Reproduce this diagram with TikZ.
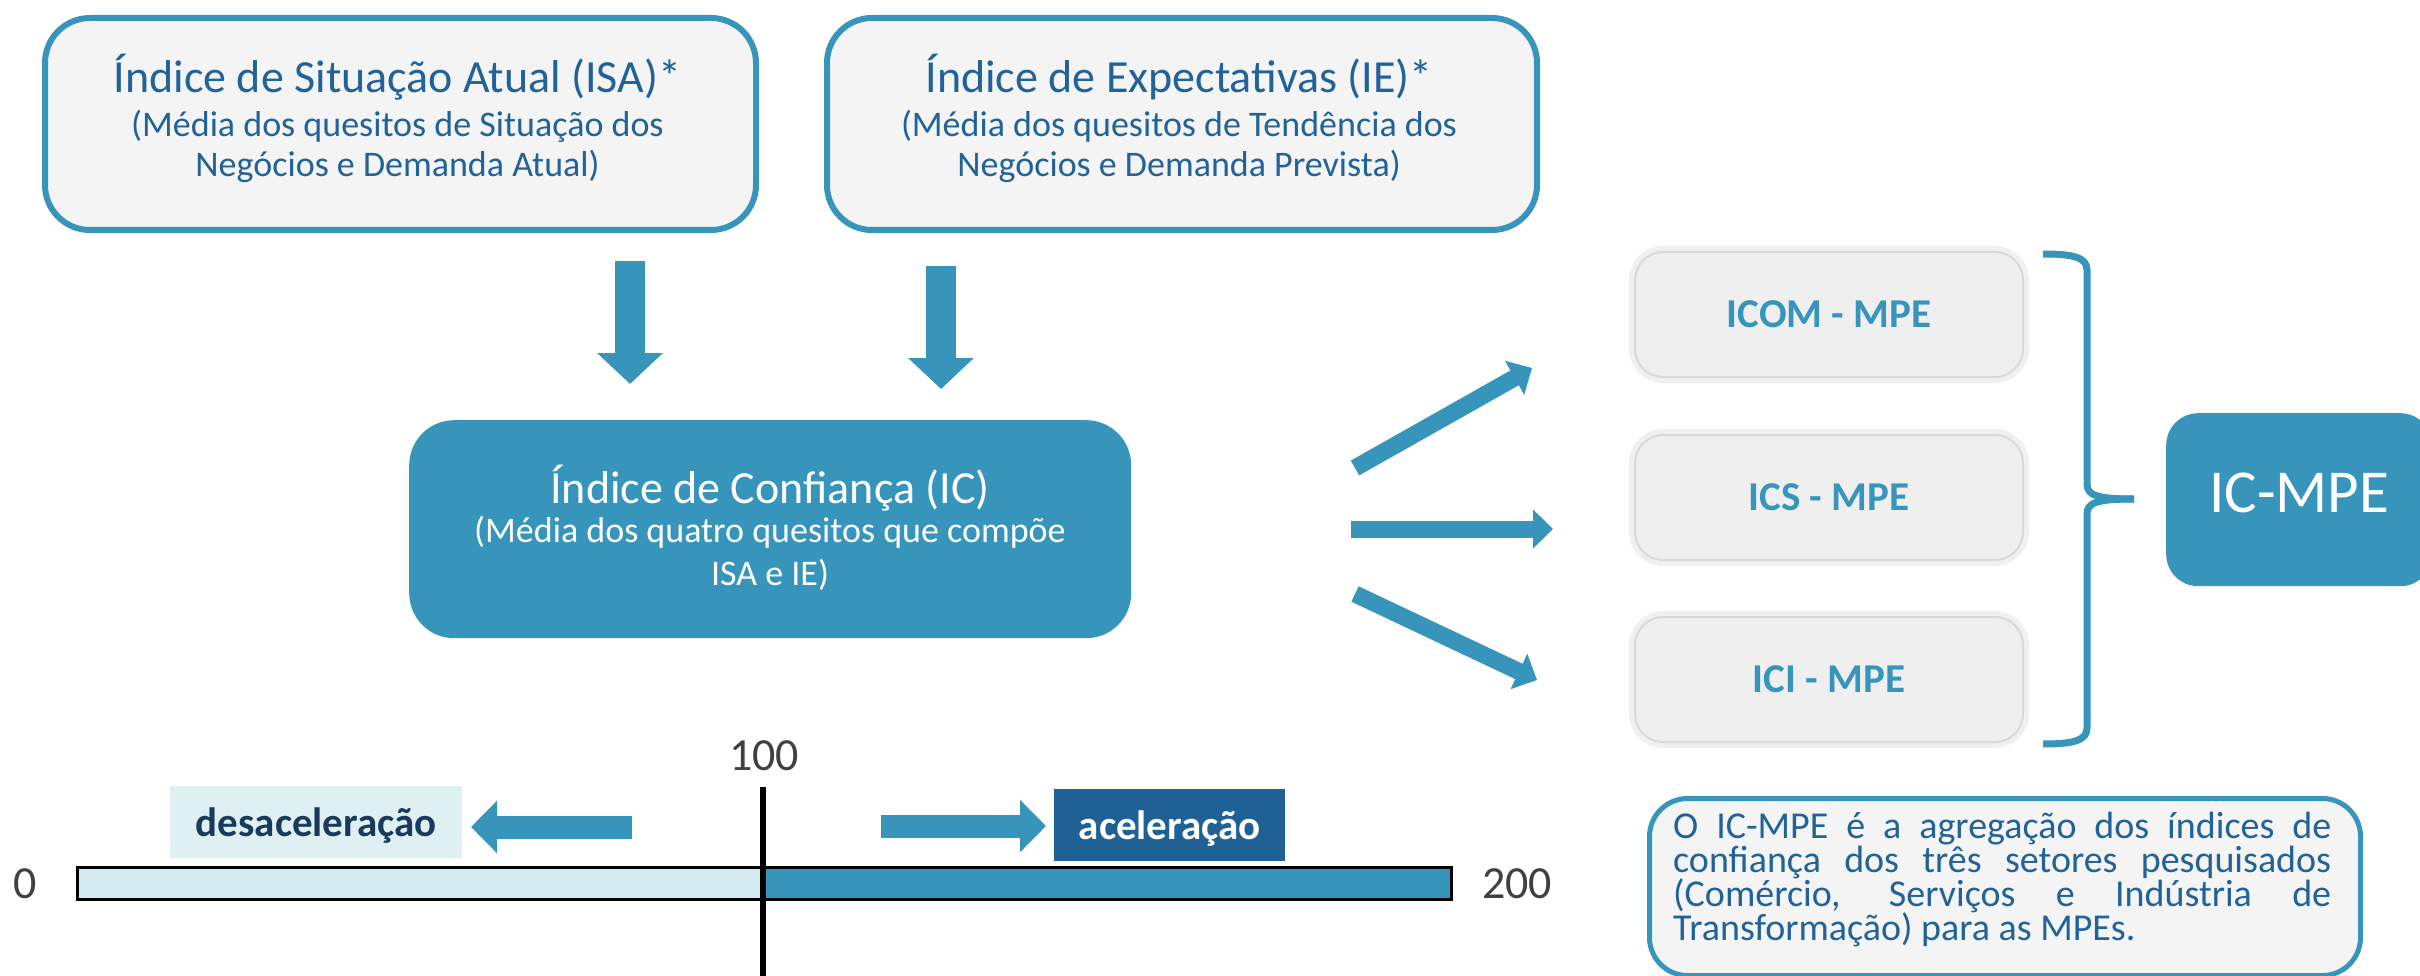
\documentclass[tikz,border=0pt]{standalone}
\usepackage{fontspec}
\setmainfont{Carlito}
\usetikzlibrary{arrows.meta}
\definecolor{mainblue}{RGB}{55,149,188}
\definecolor{titleblue}{RGB}{33,98,152}
\definecolor{boxgray}{RGB}{244,244,244}
\definecolor{smallgray}{RGB}{239,239,239}
\definecolor{lightbar}{RGB}{212,234,242}
\definecolor{deslight}{RGB}{223,240,243}
\definecolor{desdark}{RGB}{24,58,92}
\definecolor{acdark}{RGB}{31,97,148}
\definecolor{numgray}{RGB}{64,64,64}
\newcommand\ctrline[2]{\hbox to #1{\hfil #2\hfil}}
\tikzset{
  topbox/.style={draw=mainblue, line width=6pt, fill=boxgray, rounded corners=45pt, inner sep=0pt, anchor=north west},
  icbox/.style={fill=mainblue, rounded corners=45pt, inner sep=0pt, anchor=north west},
  smallbox/.style={fill=smallgray, draw=black!15, line width=2pt, rounded corners=28pt, inner sep=0pt,
     minimum width=388pt, minimum height=125pt, anchor=north west,
     preaction={draw=black!6, line width=12pt},
     font=\fontsize{41}{41}\selectfont\bfseries, text=mainblue, text height=26pt, text depth=0pt},
  mpebox/.style={fill=mainblue, rounded corners=32pt, inner sep=0pt, anchor=north west,
     font=\fontsize{61}{61}\selectfont, text=white, text height=38pt, text depth=12pt},
  notebox/.style={draw=mainblue, line width=5pt, fill=boxgray, rounded corners=38pt, inner sep=0pt, anchor=north west},
  boxtext/.style={anchor=base, inner sep=0pt, font=\fontsize{36}{40}\selectfont},
  downarrow/.style={draw=mainblue, line width=30pt, -{Triangle[width=64pt,length=31pt]}},
  blockarrow/.style={draw=mainblue, line width=17pt, -{Triangle[width=38pt,length=20pt]}},
  scalearrow/.style={draw=mainblue, line width=23pt, -{Triangle[width=51pt,length=26pt]}},
  bracestyle/.style={draw=mainblue, line width=7pt},
  numlabel/.style={anchor=base, inner sep=0pt, font=\fontsize{46}{46}\selectfont, text=numgray},
  tagbox/.style={inner sep=0pt, anchor=north west, font=\fontsize{41}{41}\selectfont\bfseries, text height=29pt, text depth=0pt},
}
\begin{document}
\begin{tikzpicture}[x=1pt,y=-1pt]
\useasboundingbox (0,0) rectangle (2420,976);

% top boxes
\node[topbox, minimum width=711pt, minimum height=212pt] (isa) at (42,15) {};
\node[topbox, minimum width=710pt, minimum height=212pt] (ie) at (824,15) {};
\node[boxtext, text=titleblue] (isatext) at (397.5,93) {\vtop{\lineskiplimit=-100pt
  \ctrline{700pt}{\fontsize{46}{46}\selectfont Índice de Situação Atual (ISA)*}
  \baselineskip=44pt
  \ctrline{700pt}{(Média dos quesitos de Situação dos}
  \baselineskip=40pt
  \ctrline{700pt}{Negócios e Demanda Atual)}}};
\node[boxtext, text=titleblue] (ietext) at (1179,93) {\vtop{\lineskiplimit=-100pt
  \ctrline{700pt}{\fontsize{46}{46}\selectfont Índice de Expectativas (IE)*}
  \baselineskip=44pt
  \ctrline{700pt}{(Média dos quesitos de Tendência dos}
  \baselineskip=40pt
  \ctrline{700pt}{Negócios e Demanda Prevista)}}};

% IC box
\node[icbox, minimum width=722pt, minimum height=218pt] (ic) at (409,420) {};
\node[boxtext, text=white] (ictext) at (770,503) {\vtop{\lineskiplimit=-100pt
  \ctrline{710pt}{\fontsize{46}{46}\selectfont Índice de Confiança (IC)}
  \baselineskip=39pt
  \ctrline{710pt}{(Média dos quatro quesitos que compõe}
  \baselineskip=43pt
  \ctrline{710pt}{ISA e IE)}}};

% down arrows
\coordinate (d1s) at (630,261);
\coordinate (d1e) at (630,384);
\coordinate (d2s) at (941,266);
\coordinate (d2e) at (941,389);
\draw[downarrow] (d1s) -- (d1e);
\draw[downarrow] (d2s) -- (d2e);

% small boxes
\node[smallbox] (icom) at (1634,251) {ICOM - MPE};
\node[smallbox] (ics) at (1634,434) {ICS - MPE};
\node[smallbox] (ici) at (1634,616) {ICI - MPE};

% arrows from IC
\coordinate (a1s) at (1355,468);
\coordinate (a1e) at (1532,368);
\coordinate (a2s) at (1351,529);
\coordinate (a2e) at (1553,529);
\coordinate (a3s) at (1355,594);
\coordinate (a3e) at (1537,680);
\draw[blockarrow] (a1s) -- (a1e);
\draw[blockarrow] (a2s) -- (a2e);
\draw[blockarrow] (a3s) -- (a3e);

% brace
\coordinate (bt) at (2043,254);
\coordinate (btip) at (2134,499);
\coordinate (bb) at (2043,744);
\draw[bracestyle] (bt) .. controls (2072,254) and (2087,257) .. (2087,270) -- (2087,484)
  .. controls (2087,495) and (2096,499) .. (btip);
\draw[bracestyle] (btip) .. controls (2096,499) and (2087,503) .. (2087,514) -- (2087,728)
  .. controls (2087,741) and (2072,744) .. (bb);

% IC-MPE
\node[mpebox, minimum width=266pt, minimum height=173pt] (mpe) at (2166,413) {IC-MPE};

% note
\node[notebox, minimum width=711pt, minimum height=177pt] (note) at (1647,796) {};
\node[anchor=base west, inner sep=0pt, text=titleblue, font=\fontsize{38}{34}\selectfont] (notetext) at (1673,838)
 {\vtop{\lineskiplimit=-100pt \baselineskip=34pt
  \hbox{\makebox[658pt][s]{O IC-MPE é a agregação dos índices de}}
  \hbox{\makebox[658pt][s]{confiança dos três setores pesquisados}}
  \hbox{\makebox[658pt][s]{(Comércio, Serviços e Indústria de}}
  \hbox{Transformação) para as MPEs.}}};

% scale
\node[tagbox, fill=deslight, text=desdark, minimum width=292pt, minimum height=72pt] (des) at (170,786) {desaceleração};
\node[tagbox, fill=acdark, text=white, minimum width=231pt, minimum height=72pt] (ace) at (1054,789) {aceleração};
\coordinate (l1s) at (632,827);
\coordinate (l1e) at (471,827);
\coordinate (r1s) at (881,826);
\coordinate (r1e) at (1046,826);
\draw[scalearrow] (l1s) -- (l1e);
\draw[scalearrow] (r1s) -- (r1e);

\node[fill=lightbar, inner sep=0pt, minimum width=686pt, minimum height=32pt, anchor=north west] (barL) at (77,867) {};
\node[fill=mainblue, inner sep=0pt, minimum width=688pt, minimum height=32pt, anchor=north west] (barR) at (763,867) {};
\draw[line width=3pt] (barL.north west) rectangle (barR.south east);
\coordinate (vtop) at (763,787);
\coordinate (vbot) at (763,976);
\draw[line width=6pt] (vtop) -- (vbot);

\node[numlabel] (n100) at (764,770) {100};
\node[numlabel] (n0) at (25,898) {0};
\node[numlabel] (n200) at (1517,898) {200};
\end{tikzpicture}
\end{document}
